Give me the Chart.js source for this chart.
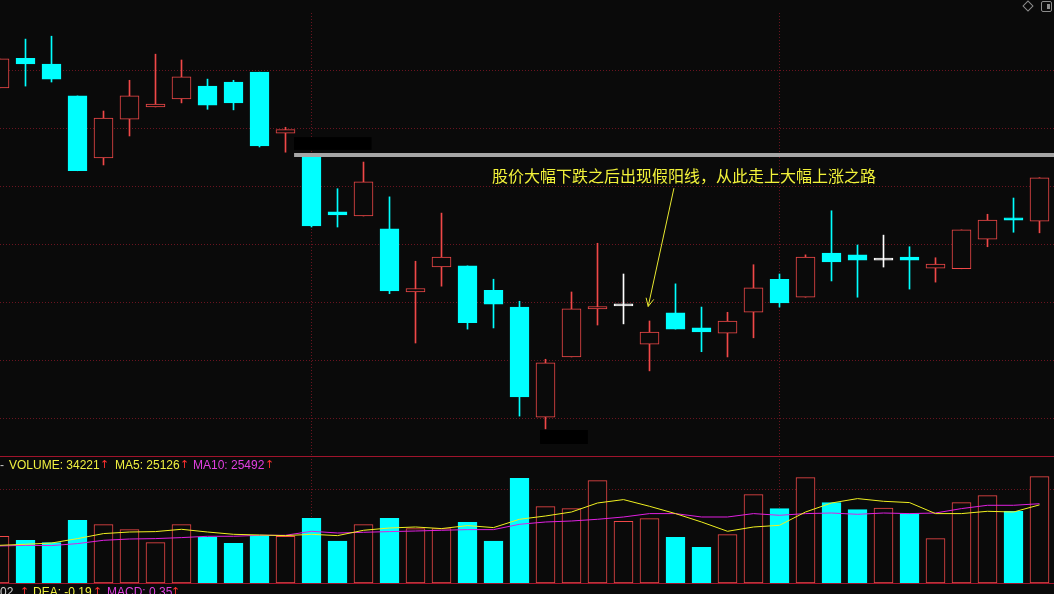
<!DOCTYPE html>
<html lang="zh-CN">
<head>
    <meta charset="UTF-8">
    <title>K线图 - 假阳线</title>
    <script src="https://cdn.jsdelivr.net/npm/chart.js"></script>
    <style>
        body {
            margin: 0;
            width: 1054px;
            height: 594px;
            overflow: hidden;
            position: relative;
            background-color: #0a0a0a;
            font-family: "Liberation Sans", Arial, sans-serif;
        }
        canvas { position: absolute; left: 0; }
        #priceChart { top: 0; }
        #volumeChart { top: 456px; }
        .sep { position: absolute; left: 0; width: 1054px; height: 1px; background: #a0142c; }
        .row { position: absolute; left: 0; height: 14px; width: 1054px; font-size: 12px; line-height: 12px; }
        .row span { position: absolute; top: 0; white-space: nowrap; }
        .up { color: #ff3030; font-family: "DejaVu Sans", sans-serif; font-size: 11px; }
        .note {
            position: absolute; left: 492px; top: 166px;
            font-family: "Noto Sans CJK SC", sans-serif; font-size: 16px; line-height: 18px;
            color: #f2f23a; white-space: nowrap;
        }
        .diamond {
            position: absolute; left: 1024px; top: 2px; width: 6px; height: 6px;
            border: 1px solid #8c8c8c; transform: rotate(45deg);
        }
        .panel {
            position: absolute; left: 1041px; top: 1px; width: 9px; height: 9px;
            border: 1px solid #8c8c8c; border-radius: 2px;
        }
        .panel i { position: absolute; right: 1px; top: 2px; width: 3px; height: 5px; background: #8c8c8c; }
    </style>
</head>
<body>
    <canvas id="priceChart" width="1054" height="456"></canvas>
    <canvas id="volumeChart" width="1054" height="138"></canvas>
    <div class="sep" style="top:456px"></div>
    <div class="sep" style="top:583px"></div>

    <div class="note">股价大幅下跌之后出现假阳线，从此走上大幅上涨之路</div>
    <div class="diamond"></div>
    <div class="panel"><i></i></div>

    <div class="row" id="volRow" style="top:459px"></div>
    <div class="row" id="macdRow" style="top:586px"></div>

    <script>
        // K线数据 (从左到右, 第一根只露出一半)
        const opens  = [10.71, 11.22, 11.12, 10.57, 9.50, 10.17, 10.38, 10.52, 10.74, 10.81, 10.98, 9.93, 9.55, 8.57, 8.50, 8.28, 7.19, 7.62, 7.64, 7.22, 6.93, 5.03, 6.07, 6.90, 6.95, 6.29, 6.83, 6.57, 6.48, 6.84, 7.41, 7.10, 7.86, 7.83, 7.74, 7.79, 7.60, 7.59, 8.10, 8.47, 8.41];
        const closes = [11.21, 11.12, 10.86, 9.28, 10.19, 10.57, 10.43, 10.90, 10.41, 10.45, 9.71, 9.99, 8.33, 8.52, 9.09, 7.21, 7.25, 7.79, 6.66, 6.98, 5.38, 5.97, 6.90, 6.94, 6.95, 6.50, 6.55, 6.50, 6.69, 7.26, 7.00, 7.79, 7.71, 7.74, 7.74, 7.74, 7.67, 8.26, 8.43, 8.43, 9.16];
        const highs  = [11.21, 11.55, 11.60, 10.57, 10.31, 10.84, 11.29, 11.19, 10.86, 10.84, 10.98, 10.03, 9.55, 8.97, 9.43, 8.83, 7.72, 8.55, 7.64, 7.41, 7.03, 6.03, 7.19, 8.03, 7.50, 6.69, 7.33, 6.93, 6.84, 7.66, 7.50, 7.83, 8.59, 8.00, 8.17, 7.97, 7.78, 8.26, 8.53, 8.81, 9.16];
        const lows   = [10.71, 10.74, 10.81, 9.28, 9.38, 9.88, 10.38, 10.45, 10.34, 10.33, 9.69, 9.60, 8.31, 8.31, 8.50, 7.16, 6.31, 7.29, 6.55, 6.57, 5.05, 4.83, 6.07, 6.62, 6.64, 5.83, 6.55, 6.16, 6.07, 6.40, 6.93, 7.10, 7.38, 7.10, 7.62, 7.24, 7.36, 7.59, 7.97, 8.22, 8.21];

        // 成交量及均量线
        const volumes = [15020, 13730, 12990, 20160, 18780, 17170, 12990, 18780, 14700, 12770, 15240, 15020, 20810, 13510, 18780, 20810, 17500, 17500, 19520, 13510, 33670, 24570, 23930, 32930, 19840, 20710, 14700, 11480, 15570, 28430, 23930, 33900, 25860, 23610, 24120, 22320, 14280, 25860, 28110, 23060, 34221];
        const ma5  = [12120, 12450, 12860, 14280, 15890, 16400, 16530, 17270, 16400, 15660, 15440, 15240, 15660, 15240, 16950, 17690, 18010, 17500, 18460, 17820, 20490, 21550, 22830, 25730, 26820, 24670, 22320, 19620, 16630, 18010, 18560, 22830, 25730, 27140, 26280, 25860, 22320, 22320, 23060, 22830, 25126];
        const ma10 = [11900, 12120, 12030, 12670, 13730, 14150, 14280, 14600, 15020, 15020, 15340, 15340, 16630, 16080, 16310, 16530, 16720, 16950, 17170, 17170, 18880, 19620, 19940, 20490, 21230, 22320, 22320, 21230, 21230, 22320, 21770, 22320, 22510, 22090, 22510, 22320, 22510, 23930, 24990, 24990, 25492];

        // 竖向分隔线所在K线, 价格网格, 量网格
        const dividerBars = [12, 30];
        const priceGrid = [5, 6, 7, 8, 9, 10, 11];
        const volumeGrid = [30000];

        // 标注: 压力线和黑色遮挡块, 箭头
        const resistance = { price: 9.55, from: 11.33 };
        const masks = [
            { x1: 11.33, x2: 14.31, y1: 9.86, y2: 9.64 },
            { x1: 20.79, x2: 22.63, y1: 4.81, y2: 4.57 }
        ];
        const arrow = { x1: 25.94, y1: 8.98, x2: 24.95, y2: 6.94 };

        const RED = '#f04848';
        const CYAN = '#00ffff';
        const WHITE = '#ffffff';
        const BG = '#0a0a0a';
        const GRID = '#6a1420';

        const idx = opens.map((_, i) => i);
        const candleColor = idx.map(i => closes[i] > opens[i] ? RED : (closes[i] < opens[i] ? CYAN : WHITE));
        const bodyFill = idx.map(i => closes[i] > opens[i] ? BG : candleColor[i]);
        const volUp = idx.map(i => closes[i] >= opens[i]);

        // 第一根K线中心在 x=-0.5px, 间距 26px
        const xMin = 0.5 / 26;
        const xMax = 1054.5 / 26;

        function xScale(ticks) {
            return {
                type: 'linear',
                min: xMin,
                max: xMax,
                offset: false,
                ticks: { display: false },
                grid: { color: GRID, drawTicks: false, offset: false },
                border: { display: false, dash: [1, 2] },
                afterBuildTicks: axis => { axis.ticks = ticks.map(v => ({ value: v })); }
            };
        }

        const annotate = {
            id: 'annotate',
            afterDatasetsDraw(chart) {
                const { ctx, scales: { x, y }, chartArea } = chart;
                ctx.save();
                // 压力线
                ctx.strokeStyle = '#a6a6a6';
                ctx.lineWidth = 4;
                ctx.beginPath();
                const ly = Math.round(y.getPixelForValue(resistance.price));
                ctx.moveTo(x.getPixelForValue(resistance.from), ly);
                ctx.lineTo(chartArea.right, ly);
                ctx.stroke();
                // 遮挡块
                ctx.fillStyle = '#000000';
                masks.forEach(m => {
                    const px1 = x.getPixelForValue(m.x1), px2 = x.getPixelForValue(m.x2);
                    const py1 = y.getPixelForValue(m.y1), py2 = y.getPixelForValue(m.y2);
                    ctx.fillRect(px1, py1, px2 - px1, py2 - py1);
                });
                // 箭头
                const ax1 = x.getPixelForValue(arrow.x1), ay1 = y.getPixelForValue(arrow.y1);
                const ax2 = x.getPixelForValue(arrow.x2), ay2 = y.getPixelForValue(arrow.y2);
                ctx.strokeStyle = '#e8e830';
                ctx.lineWidth = 1;
                ctx.beginPath();
                ctx.moveTo(ax1, ay1);
                ctx.lineTo(ax2, ay2);
                const ang = Math.atan2(ay2 - ay1, ax2 - ax1);
                [0.45, -0.45].forEach(d => {
                    ctx.moveTo(ax2, ay2);
                    ctx.lineTo(ax2 - 9 * Math.cos(ang + d), ay2 - 9 * Math.sin(ang + d));
                });
                ctx.stroke();
                ctx.restore();
            }
        };

        new Chart(document.getElementById('priceChart'), {
            type: 'bar',
            data: {
                datasets: [{
                    label: '影线',
                    data: idx.map(i => ({ x: i, y: [lows[i], highs[i]] })),
                    backgroundColor: candleColor,
                    borderWidth: 0,
                    barThickness: 1,
                    grouped: false,
                    order: 2
                }, {
                    label: '实体',
                    data: idx.map(i => ({ x: i, y: [opens[i], closes[i]] })),
                    backgroundColor: bodyFill,
                    borderColor: candleColor,
                    borderWidth: 1,
                    borderSkipped: false,
                    barThickness: 19,
                    minBarLength: 2,
                    grouped: false,
                    order: 1
                }]
            },
            options: {
                responsive: false,
                animation: false,
                devicePixelRatio: 1,
                events: [],
                layout: { padding: { top: 13, left: 0, right: 0, bottom: 0 } },
                plugins: { legend: { display: false }, tooltip: { enabled: false } },
                scales: {
                    x: xScale(dividerBars),
                    y: {
                        min: 4.362,
                        max: 12,
                        ticks: { display: false },
                        grid: { color: GRID, drawTicks: false },
                        border: { display: false, dash: [1, 2] },
                        afterBuildTicks: axis => { axis.ticks = priceGrid.map(v => ({ value: v })); }
                    }
                }
            },
            plugins: [annotate]
        });

        new Chart(document.getElementById('volumeChart'), {
            type: 'bar',
            data: {
                datasets: [{
                    type: 'line',
                    label: 'MA5',
                    data: idx.map(i => ({ x: i, y: ma5[i] })),
                    borderColor: '#f0f020',
                    borderWidth: 1,
                    pointRadius: 0,
                    tension: 0,
                    order: 0
                }, {
                    type: 'line',
                    label: 'MA10',
                    data: idx.map(i => ({ x: i, y: ma10[i] })),
                    borderColor: '#e020e0',
                    borderWidth: 1,
                    pointRadius: 0,
                    tension: 0,
                    order: 0
                }, {
                    label: 'VOLUME',
                    data: idx.map(i => ({ x: i, y: volumes[i] })),
                    backgroundColor: volUp.map(u => u ? BG : CYAN),
                    borderColor: volUp.map(u => u ? RED : CYAN),
                    borderWidth: 1,
                    borderSkipped: false,
                    barThickness: 19,
                    grouped: false,
                    order: 1
                }]
            },
            options: {
                responsive: false,
                animation: false,
                devicePixelRatio: 1,
                events: [],
                layout: { padding: { top: 0, left: 0, right: 0, bottom: 11 } },
                plugins: { legend: { display: false }, tooltip: { enabled: false } },
                scales: {
                    x: xScale(dividerBars),
                    y: {
                        min: 0,
                        max: 40843,
                        ticks: { display: false },
                        grid: { color: GRID, drawTicks: false },
                        border: { display: false, dash: [1, 2] },
                        afterBuildTicks: axis => { axis.ticks = volumeGrid.map(v => ({ value: v })); }
                    }
                }
            }
        });

        // 指标文字行
        const last = volumes.length - 1;
        function fillRow(id, items) {
            const row = document.getElementById(id);
            items.forEach(([left, text, color, cls]) => {
                const s = document.createElement('span');
                s.style.left = left + 'px';
                if (color) s.style.color = color;
                if (cls) s.className = cls;
                s.textContent = text;
                row.appendChild(s);
            });
        }
        fillRow('volRow', [
            [0, '-', '#c8c8c8'],
            [9, 'VOLUME: ' + volumes[last], '#f0f040'],
            [100, '↑', null, 'up'],
            [115, 'MA5: ' + ma5[last], '#f0f040'],
            [180, '↑', null, 'up'],
            [193, 'MA10: ' + ma10[last], '#e040e0'],
            [265, '↑', null, 'up']
        ]);
        fillRow('macdRow', [
            [0, '02', '#d0d0d0'],
            [20, '↑', null, 'up'],
            [33, 'DEA: -0.19', '#f0f040'],
            [93, '↑', null, 'up'],
            [107, 'MACD: 0.35', '#e040e0'],
            [171, '↑', null, 'up']
        ]);
    </script>
</body>
</html>
